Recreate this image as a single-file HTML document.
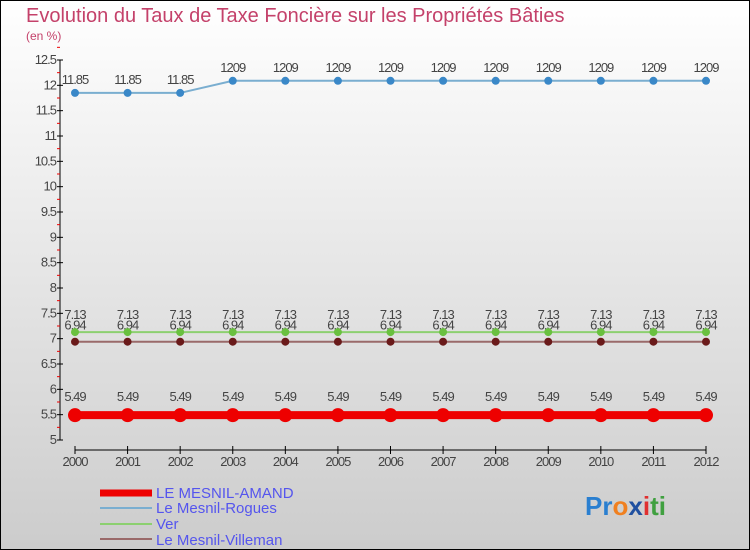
<!DOCTYPE html>
<html><head><meta charset="utf-8"><style>
body{margin:0}
#c{position:relative;width:750px;height:550px;overflow:hidden;background:linear-gradient(#ffffff,#cccccc);font-family:"Liberation Sans",sans-serif}
</style></head><body>
<div id="c">
<svg id="s" width="750" height="550" style="position:absolute;left:0;top:0">
<rect x="0.5" y="0.5" width="749" height="549" fill="none" stroke="#000"/>
<text x="26" y="22" font-size="20" fill="#c4416a" font-weight="normal">Evolution du Taux de Taxe Foncière sur les Propriétés Bâties</text>
<text x="26" y="40" font-size="12" fill="#c4416a">(en %)</text>
<g id="axes"></g><g id="series"></g>
<g>
<line x1="100" y1="493" x2="152" y2="493" stroke="#e00" stroke-width="7"/>
<text x="156" y="498" font-size="15" fill="#5555ee">LE MESNIL-AMAND</text>
<line x1="100" y1="508" x2="152" y2="508" stroke="#7aaed0" stroke-width="2"/>
<text x="156" y="513" font-size="15" fill="#5555ee">Le Mesnil-Rogues</text>
<line x1="100" y1="524" x2="152" y2="524" stroke="#8cd070" stroke-width="2"/>
<text x="156" y="529" font-size="15" fill="#5555ee">Ver</text>
<line x1="100" y1="539" x2="152" y2="539" stroke="#9a6a6a" stroke-width="2"/>
<text x="156" y="545" font-size="15" fill="#5555ee">Le Mesnil-Villeman</text>
</g>
<text x="585" y="515" font-size="26" font-weight="bold"><tspan fill="#2a7fd0">Pr</tspan><tspan fill="#f08020">o</tspan><tspan fill="#2050a0">x</tspan><tspan fill="#e03030">i</tspan><tspan fill="#40a040">ti</tspan></text>
</svg>
</div>
<script>
const years=[2000,2001,2002,2003,2004,2005,2006,2007,2008,2009,2010,2011,2012];
const amand=[5.49,5.49,5.49,5.49,5.49,5.49,5.49,5.49,5.49,5.49,5.49,5.49,5.49];
const rogues=[11.85,11.85,11.85,12.09,12.09,12.09,12.09,12.09,12.09,12.09,12.09,12.09,12.09];
const ver=[7.13,7.13,7.13,7.13,7.13,7.13,7.13,7.13,7.13,7.13,7.13,7.13,7.13];
const villeman=[6.94,6.94,6.94,6.94,6.94,6.94,6.94,6.94,6.94,6.94,6.94,6.94,6.94];
const yTicks=[5,5.5,6,6.5,7,7.5,8,8.5,9,9.5,10,10.5,11,11.5,12,12.5];
const NS="http://www.w3.org/2000/svg";
const X=i=>75+i*(706-75)/(years.length-1);
const Y=v=>440-(v-5)*(380/7.5);
function mk(t,a,p){const e=document.createElementNS(NS,t);for(const k in a)e.setAttribute(k,a[k]);p.appendChild(e);return e;}
const ax=document.getElementById('axes');
const yl=mk('line',{x1:60,y1:Y(12.5),x2:60,y2:440,stroke:'#000'},ax);


yTicks.forEach(v=>{
 mk('line',{x1:57,y1:Y(v),x2:63,y2:Y(v),stroke:'#000'},ax);
 mk('line',{x1:57,y1:Y(v+0.25),x2:60,y2:Y(v+0.25),stroke:'#e00'},ax);
 const t=mk('text',{x:56,y:Y(v)+4,'font-size':13,fill:'#444','text-anchor':'end','letter-spacing':'-1'},ax);
 t.textContent=v;
 
 
});
const xl=mk('line',{x1:X(0),y1:450,x2:X(12),y2:450,stroke:'#000'},ax);


years.forEach((y,i)=>{
 mk('line',{x1:X(i),y1:446,x2:X(i),y2:454,stroke:'#000'},ax);
 const t=mk('text',{x:X(i),y:466,'font-size':13,fill:'#444','text-anchor':'middle','letter-spacing':'-1'},ax);
 t.textContent=y;
 
 
});
const sg=document.getElementById('series');
function series(name,vals,col,dot,w,r,lab){
 const g=mk('g',{},sg);
 
 
 mk('polyline',{points:vals.map((v,i)=>X(i)+','+Y(v)).join(' '),fill:'none',stroke:col,'stroke-width':w},g);
 vals.forEach((v,i)=>{
  const c=mk('circle',{cx:X(i),cy:Y(v),r:r,fill:dot},g);
  
  
  const t=mk('text',{x:X(i),y:Y(v)-lab,'font-size':13,fill:'#444','text-anchor':'middle','letter-spacing':'-1'},g);
  t.textContent=String(v).replace(/^12\.09$/,'1209');
  
  
 });
}
series('le-mesnil-villeman',villeman,'#9a6a6a','#6a1a1a',2,4,12);
series('ver',ver,'#8cd070','#6ac040',2,4,13);
series('le-mesnil-rogues',rogues,'#7aaed0','#3a88c8',2,4,9);
series('le-mesnil-amand',amand,'#ee0000','#ee0000',8,7,14);
</script>
</body></html>
